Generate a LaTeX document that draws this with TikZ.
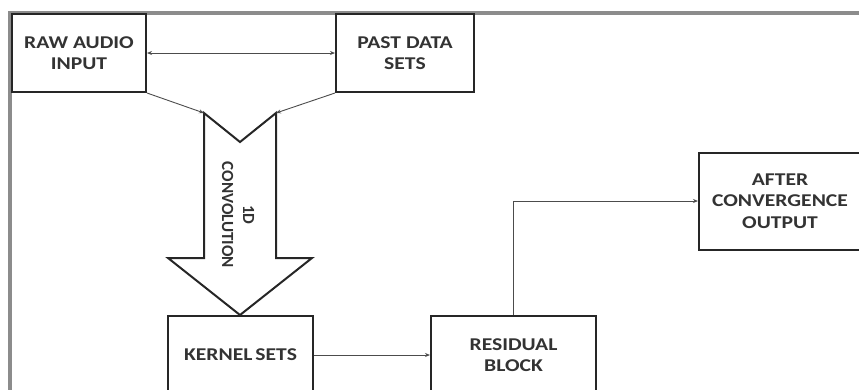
\documentclass[tikz,border=0pt]{standalone}
\usepackage{fontspec}
\setmainfont{Carlito}[FakeStretch=1.2]
\newfontfamily\convfont{Carlito}
\usetikzlibrary{arrows.meta,positioning}

\begin{document}
\begin{tikzpicture}[
  x=1pt, y=-1pt,
  font=\fontsize{18}{21.5}\selectfont\bfseries,
  bloco/.style={draw=black!85, line width=2pt, align=center, text=black!80,
               inner sep=0pt},
  arr/.style={-{Stealth[length=5pt,width=4pt]}, draw=black!70, line width=0.9pt},
  darr/.style={arr, {Stealth[length=5pt,width=4pt]}-{Stealth[length=5pt,width=4pt]}}
]
\useasboundingbox (0,0) rectangle (859,389);
% moldura cinza
\draw[black!45, line width=3.5pt] (10,400) -- (10,13) -- (870,13);
\node[bloco, minimum width=134pt, minimum height=78pt] (raw) at (79,53) {RAW AUDIO\\INPUT};
\node[bloco, minimum width=138pt, minimum height=78pt] (past) at (405,53) {PAST DATA\\SETS};
\node[bloco, minimum width=162pt, minimum height=97pt] (after) at (780,201) {AFTER\\CONVERGENCE\\OUTPUT};
\node[bloco, minimum width=145pt, minimum height=78pt] (kernel) at (240.5,355) {KERNEL\,SETS};
\node[bloco, minimum width=165pt, minimum height=78pt] (resid) at (513.5,355) {RESIDUAL\\BLOCK};
% seta larga da convolucao
\coordinate (convL) at (204,113);
\coordinate (convR) at (276,113);
\draw[black!85, line width=2pt, line join=miter]
  (convL) -- (240,142) -- (convR) -- (276,258) -- (312,258) -- (240,315)
  -- (168,258) -- (204,258) -- cycle;
\node[rotate=-90, align=center, text=black!80,
      font=\convfont\fontsize{17}{21}\selectfont\bfseries] (conv) at (238,215) {1D\\CONVOLUTION};
% ligacoes
\draw[darr] (raw) -- (past);
\draw[arr] (raw.south east) -- (convL);
\draw[arr] (past.south west) -- (convR);
\draw[arr] (kernel) -- (resid);
\draw[arr] (resid.north) |- (after.west);
\end{tikzpicture}
\end{document}
